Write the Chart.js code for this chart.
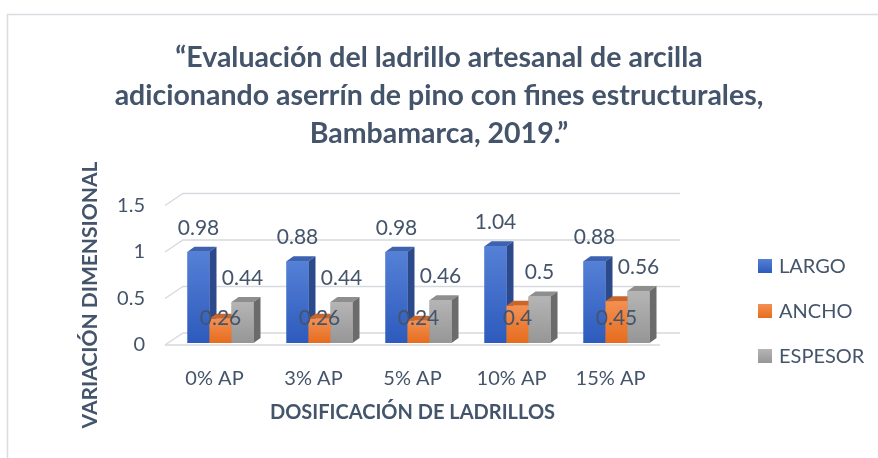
<!DOCTYPE html>
<html>
<head>
<meta charset="utf-8">
<script src="https://cdn.jsdelivr.net/npm/chart.js@4"></script>
<style>
  html, body { margin: 0; padding: 0; background: #fff; }
  #wrap { width: 878px; height: 458px; }
</style>
</head>
<body>
<div id="wrap"><canvas id="c" width="878" height="458"></canvas></div>
<script>
// datos
const categories = ['0% AP', '3% AP', '5% AP', '10% AP', '15% AP'];
const seriesNames = ['LARGO', 'ANCHO', 'ESPESOR'];
const largo = [0.98, 0.88, 0.98, 1.04, 0.88];
const ancho = [0.26, 0.26, 0.24, 0.4, 0.45];
const espesor = [0.44, 0.44, 0.46, 0.5, 0.56];
const yTicks = [0, 0.5, 1, 1.5];
const titleLines = ['\u201CEvaluación del ladrillo artesanal de arcilla', 'adicionando aserrín de pino con fines estructurales,', 'Bambamarca, 2019.\u201D'];

const TEXT = '#44546a';
const FONT = 'Lato';
Chart.defaults.font.family = FONT;
Chart.defaults.color = TEXT;

// colores: frente (arriba/abajo), tapa, lado
const shades = [
    { top: '#5580d6', bottom: '#2d5bbd', cap: '#3d62b0', side: '#2c4a8b' },
    { top: '#f39052', bottom: '#e66c1d', cap: '#c8662c', side: '#b4581f' },
    { top: '#b5b5b5', bottom: '#969696', cap: '#8e8e8e', side: '#6b6b6b' }
];

const DX = 7, DY = 5;      // profundidad de las barras
const SHIFT = 6;           // perspectiva: barras corridas a la derecha

const fake3d = {
    id: 'fake3d',
    beforeDraw: (chart) => {
        const c = chart.ctx;
        c.save();
        c.strokeStyle = '#d9dce1';
        c.lineWidth = 1.5;
        c.beginPath();
        c.moveTo(7.5, 460); c.lineTo(7.5, 14.5); c.lineTo(880, 14.5);
        c.stroke();
        c.restore();
    },
    beforeDatasetsDraw: (chart) => {
        const c = chart.ctx, a = chart.chartArea, y = chart.scales.y;
        c.save();
        c.strokeStyle = '#d6d9de';
        c.lineWidth = 1.3;
        yTicks.forEach(v => {
            const fy = y.getPixelForValue(v) + 2;
            c.beginPath();
            c.moveTo(a.left, fy);
            c.lineTo(a.left + 18, fy - 12);
            c.lineTo(a.right + 20, fy - 12);
            c.stroke();
        });
        // borde frontal del piso
        const f0 = y.getPixelForValue(0) + 2;
        c.beginPath(); c.moveTo(a.left, f0); c.lineTo(a.right, f0); c.stroke();
        c.restore();
        c.save();
        c.translate(SHIFT, 0);
    },
    afterDatasetsDraw: (chart) => {
        const c = chart.ctx;
        const metas = [0, 1, 2].map(i => chart.getDatasetMeta(i));
        categories.forEach((cat, j) => {
            metas.forEach((m, i) => {
                const el = m.data[j], s = shades[i];
                const l = el.x - el.width / 2, r = el.x + el.width / 2, t = el.y, b = el.base;
                // tapa
                c.fillStyle = s.cap;
                c.beginPath();
                c.moveTo(l, t); c.lineTo(l + DX, t - DY); c.lineTo(r + DX, t - DY); c.lineTo(r, t);
                c.closePath(); c.fill();
                // lado
                c.fillStyle = s.side;
                c.beginPath();
                c.moveTo(r, t); c.lineTo(r + DX, t - DY); c.lineTo(r + DX, b - DY); c.lineTo(r, b);
                c.closePath(); c.fill();
                // frente
                const g = c.createLinearGradient(0, t, 0, b);
                g.addColorStop(0, s.top); g.addColorStop(1, s.bottom);
                c.fillStyle = g;
                c.fillRect(l, t, r - l, b - t);
            });
        });
        // etiquetas de datos
        c.fillStyle = TEXT;
        c.font = '21px ' + FONT;
        c.textAlign = 'center';
        c.textBaseline = 'middle';
        metas.forEach((m, i) => {
            const vals = chart.data.datasets[i].data;
            m.data.forEach((el, j) => {
                const ly = i === 1 ? el.base - 25 : el.y - 24;
                c.fillText(String(vals[j]), el.x, ly);
            });
        });
        c.restore();
    },
    afterDraw: (chart) => {
        const c = chart.ctx;
        c.save();
        // titulo del eje Y
        c.translate(90, 295);
        c.rotate(-Math.PI / 2);
        c.fillStyle = TEXT;
        c.font = 'bold 21px ' + FONT;
        c.textAlign = 'center';
        c.textBaseline = 'middle';
        c.fillText('VARIACIÓN DIMENSIONAL', 0, 0);
        c.restore();
        // leyenda
        c.save();
        c.font = '20px ' + FONT;
        c.textBaseline = 'middle';
        c.textAlign = 'left';
        const ly = [266, 311, 356];
        seriesNames.forEach((n, i) => {
            const g = c.createLinearGradient(0, ly[i] - 7, 0, ly[i] + 7);
            g.addColorStop(0, shades[i].top); g.addColorStop(1, shades[i].bottom);
            c.fillStyle = g;
            c.fillRect(758, ly[i] - 7, 14, 14);
            c.fillStyle = TEXT;
            c.fillText(n, 779, ly[i] + 1);
        });
        c.restore();
    }
};

const chart = new Chart(document.getElementById('c'), {
    type: 'bar',
    data: {
        labels: categories,
        datasets: [
            { label: seriesNames[0], data: largo, backgroundColor: '#4472c4' },
            { label: seriesNames[1], data: ancho, backgroundColor: '#ed7d31' },
            { label: seriesNames[2], data: espesor, backgroundColor: '#a5a5a5' }
        ]
    },
    options: {
        responsive: false,
        animation: false,
        layout: { padding: { left: 0, right: 0, top: 0, bottom: 30 } },
        datasets: { bar: { categoryPercentage: 0.667, barPercentage: 1, clip: false } },
        plugins: {
            legend: { display: false },
            tooltip: { enabled: false },
            title: {
                display: true,
                text: titleLines,
                color: TEXT,
                font: { size: 28.5, weight: 'bold', lineHeight: '38px' },
                padding: { top: 39, bottom: 50.5 }
            }
        },
        scales: {
            x: {
                grid: { display: false, drawTicks: false },
                border: { display: false },
                ticks: { font: { size: 20 }, color: TEXT, padding: 24 },
                title: {
                    display: true,
                    text: 'DOSIFICACIÓN DE LADRILLOS',
                    color: TEXT,
                    font: { size: 20, weight: 'bold' },
                    padding: { top: 0, bottom: 3 }
                },
                afterFit: (s) => { s.height = 85; }
            },
            y: {
                min: 0, max: 1.5,
                afterBuildTicks: (s) => { s.ticks = yTicks.map(v => ({ value: v })); },
                grid: { display: false, drawTicks: false },
                border: { display: false },
                ticks: { font: { size: 20 }, color: TEXT, padding: 20, labelOffset: 2, callback: (v) => String(v) },
                afterFit: (s) => { s.width = 165; }
            },
            // eje vacio para reservar el espacio de la leyenda
            yRight: {
                position: 'right',
                display: true,
                grid: { display: false, drawTicks: false },
                border: { display: false },
                ticks: { display: false },
                afterFit: (s) => { s.width = 218; }
            }
        }
    },
    plugins: [fake3d]
});
</script>
</body>
</html>
